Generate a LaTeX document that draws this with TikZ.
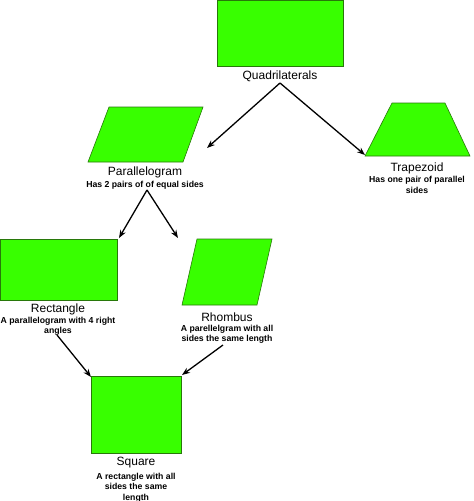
\documentclass[tikz,border=0pt]{standalone}
\usepackage{fontspec}
\setmainfont{Liberation Sans}
\usetikzlibrary{arrows.meta}
\definecolor{shapegreen}{RGB}{56,255,0}
\definecolor{edgegreen}{RGB}{40,120,10}
\tikzset{
  quadbox/.style={rectangle, draw=edgegreen, fill=shapegreen, line width=0.6pt,
                  inner sep=0pt},
  slantfill/.style={draw=edgegreen, fill=shapegreen, line width=0.6pt},
  shapename/.style={font=\fontsize{12}{14}\selectfont, inner sep=0pt},
  shapenote/.style={font=\bfseries\fontsize{8.7}{10.6}\selectfont, align=center,
                    inner sep=0pt, anchor=north},
  isa/.style={-{Stealth[length=8pt, width=6pt]}, line width=1.3pt, draw=black},
}

\begin{document}
\begin{tikzpicture}[x=1pt, y=-1pt]

\useasboundingbox (0,0) rectangle (474,501);

% shapes
\node[quadbox, minimum width=126pt, minimum height=66pt] (quad) at (280,33) {};
\filldraw[slantfill] (109,107) -- (203,107) -- (183,162) -- (88,162) -- cycle;
\filldraw[slantfill] (392,103) -- (445,103) -- (470,156) -- (365,156) -- cycle;
\node[quadbox, minimum width=117pt, minimum height=61pt] (rect) at (58.5,269.5) {};
\filldraw[slantfill] (197,239) -- (272,239) -- (257,305) -- (182,305) -- cycle;
\node[quadbox, minimum width=90pt, minimum height=77pt] (sqr) at (136,414.5) {};

% names and notes
\node[shapename] (quadlbl) at (280,76) {Quadrilaterals};
\node[shapename] (paralbl) at (145,172) {Parallelogram};
\node[shapenote] (paranote) at (145,180.5) {Has 2 pairs of of equal sides};
\node[shapename] (traplbl) at (417,168) {Trapezoid};
\node[shapenote] (trapnote) at (417,176) {Has one pair of parallel\\sides};
\node[shapename] (rectlbl) at (58,309) {Rectangle};
\node[shapenote] (rectnote) at (58,316.5) {A parallelogram with 4 right\\angles};
\node[shapename] (rhomlbl) at (227,317) {Rhombus};
\node[shapenote] (rhomnote) at (227,324.5) {A parellelgram with all\\sides the same length};
\node[shapename] (sqrlbl) at (136,463) {Square};
\node[shapenote] (sqrnote) at (136,472.5) {A rectangle with all\\sides the same\\length};

% arrow ends
\coordinate (quadfoot) at (280,83);
\coordinate (parahit) at (207,148);
\coordinate (traphit) at (365,155);
\coordinate (parafoot) at (147,190);
\coordinate (recthit) at (119,238);
\coordinate (rhomhit) at (178,238);
\coordinate (rectfoot) at (57,335);
\coordinate (rhomfoot) at (223,345);
\coordinate (sqrhitl) at (91,377);
\coordinate (sqrhitr) at (182,375);

\draw[isa] (quadfoot) -- (parahit);
\draw[isa] (quadfoot) -- (traphit);
\draw[isa] (parafoot) -- (recthit);
\draw[isa] (parafoot) -- (rhomhit);
\draw[isa] (rectfoot) -- (sqrhitl);
\draw[isa] (rhomfoot) -- (sqrhitr);

\end{tikzpicture}
\end{document}
